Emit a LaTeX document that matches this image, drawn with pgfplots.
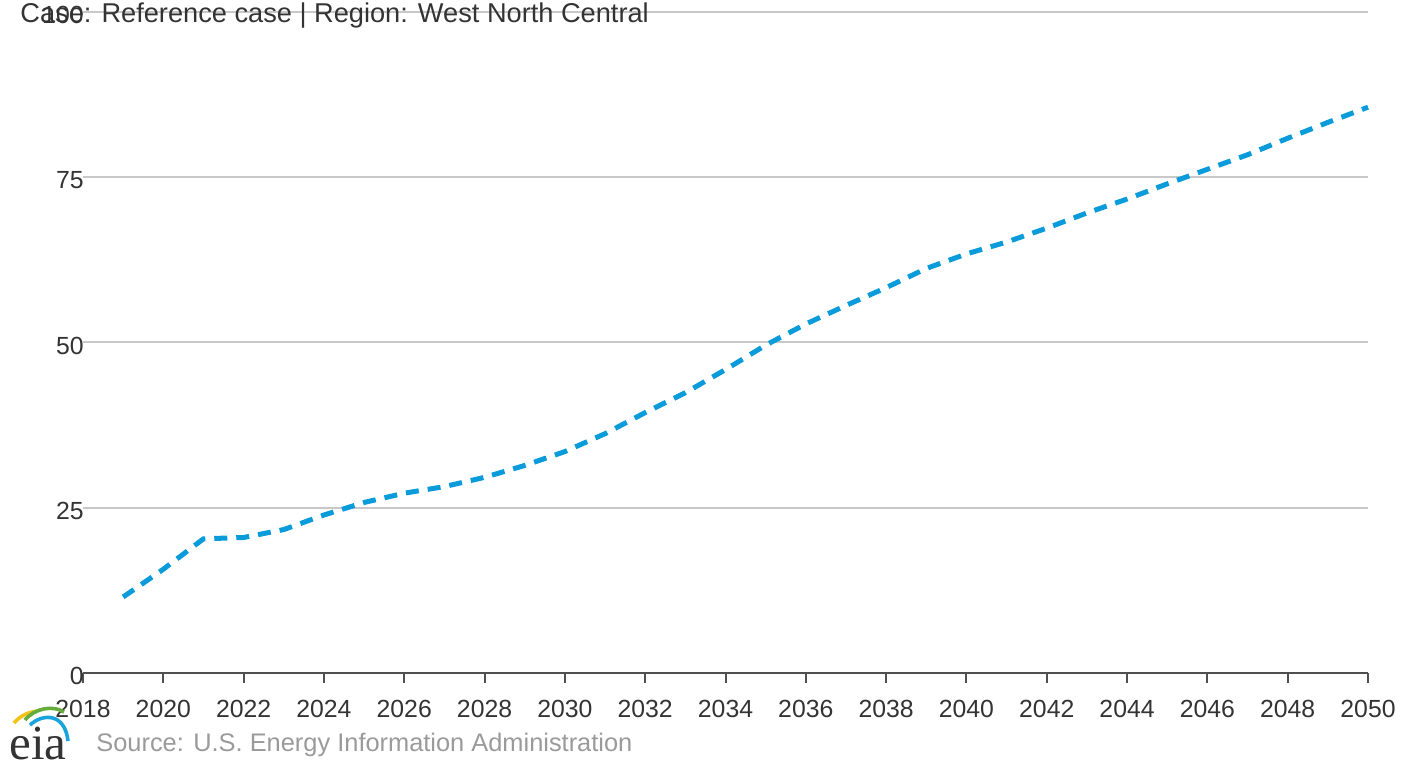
\documentclass[border=0pt]{standalone}
\usepackage{fontspec}
\setmainfont{Liberation Sans}
\newfontfamily\logofont{Liberation Serif}
\usepackage{pgfplots}
\pgfplotsset{compat=1.18}

\definecolor{eiablue}{HTML}{0A9BDB}
\definecolor{gridgray}{HTML}{C8C8C8}
\definecolor{axisgray}{HTML}{505050}
\definecolor{textgray}{HTML}{333333}
\definecolor{srcgray}{HTML}{9A9A9A}
\definecolor{logoyellow}{HTML}{F2C318}
\definecolor{logogreen}{HTML}{64AC3C}
\definecolor{logoblue}{HTML}{1BA3DD}

\begin{document}
\begin{tikzpicture}
\begin{axis}[
    scale only axis,
    width=642.5pt,
    height=330.5pt,
    at={(0,0)}, anchor=south west,
    xmin=2018, xmax=2050,
    ymin=0, ymax=100,
    xtick={2018,2020,...,2050},
    ytick={0,25,50,75,100},
    /pgf/number format/1000 sep={},
    /pgf/number format/assume math mode=true,
    axis x line*=bottom,
    axis y line*=left,
    x axis line style={axisgray, line width=1pt, -},
    y axis line style={draw=none},
    ymajorgrids,
    grid style={gridgray, line width=1pt},
    major x tick style={axisgray, line width=1pt},
    major y tick style={draw=none},
    tick align=outside,
    major tick length=5pt,
    x tick label style={font=\fontsize{12.4}{14}\selectfont, text=textgray, yshift=-5pt},
    y tick label style={font=\fontsize{12.4}{14}\selectfont, text=textgray, xshift=5.5pt, yshift=-1.5pt, inner sep=0pt},
    clip=false,
]
\addplot[eiablue, line width=2.5pt, dash pattern=on 6.5pt off 4.5pt] coordinates {
(2019,11.5) (2020,15.7) (2021,20.3) (2022,20.5) (2023,21.7) (2024,23.9)
(2025,25.8) (2026,27.2) (2027,28.2) (2028,29.6) (2029,31.4) (2030,33.5)
(2031,36.2) (2032,39.4) (2033,42.4) (2034,45.9) (2035,49.6) (2036,52.8)
(2037,55.6) (2038,58.3) (2039,61.2) (2040,63.4) (2041,65.2) (2042,67.3)
(2043,69.6) (2044,71.7) (2045,74.0) (2046,76.2) (2047,78.4) (2048,80.9)
(2049,83.3) (2050,85.6)
};
\end{axis}
% title
\node[anchor=base west, inner sep=0pt, text=textgray, font=\fontsize{13.6}{16}\selectfont] at (-31.5pt,325pt) {Case: Reference case | Region: West North Central};
% source line
\node[anchor=base west, inner sep=0pt, text=srcgray, font=\fontsize{12.7}{15}\selectfont] at (6.5pt,-39pt) {Source: U.S. Energy Information Administration};
% eia logo
\node[anchor=base west, inner sep=0pt, text=textgray, font=\logofont\fontsize{24.5}{25}\selectfont] at (-37pt,-43pt) {eia};
\draw[logoyellow, line width=1.8pt] (-34.5pt,-25pt) .. controls (-31pt,-21pt) and (-27pt,-19.5pt) .. (-22.5pt,-19pt);
\draw[logogreen, line width=1.8pt] (-29pt,-23.5pt) .. controls (-24pt,-17.5pt) and (-15pt,-16pt) .. (-9.5pt,-19.5pt);
\draw[logoblue, line width=1.8pt] (-26.5pt,-26pt) .. controls (-20pt,-20pt) and (-9pt,-20pt) .. (-7.5pt,-34pt);
\useasboundingbox (-41.5pt,-43pt) rectangle (661.5pt,336.5pt);
\end{tikzpicture}
\end{document}
